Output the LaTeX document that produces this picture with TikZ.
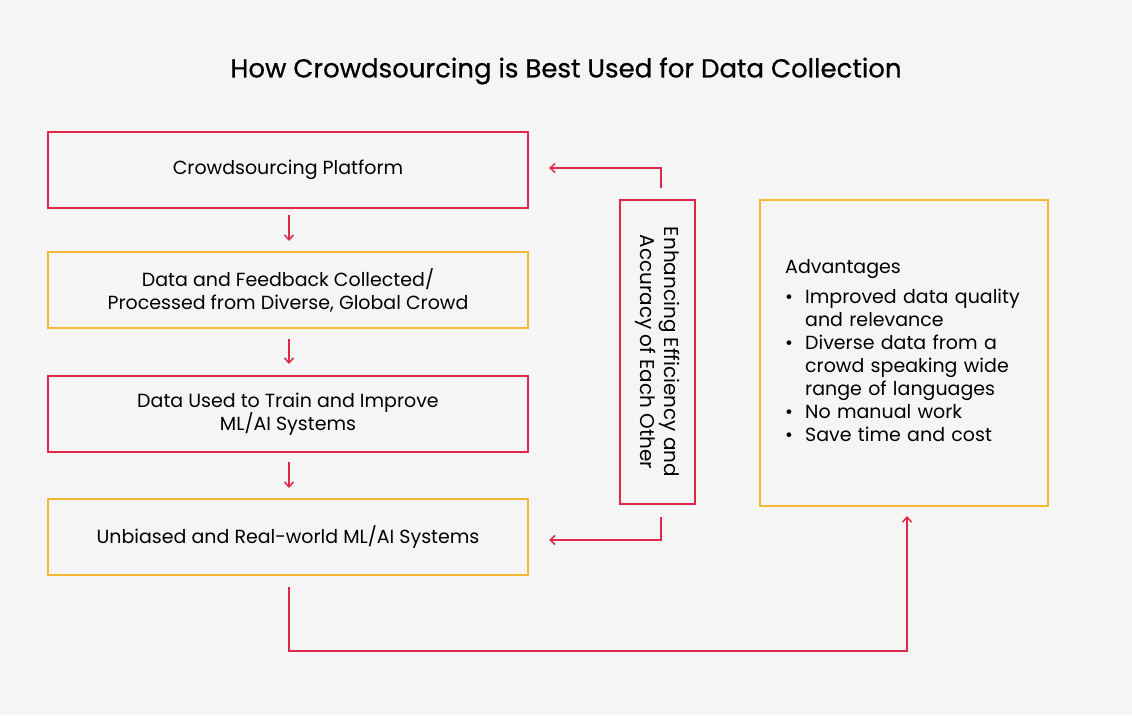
\documentclass[tikz,border=0pt]{standalone}
\usepackage{fontspec}
\setmainfont{Poppins}
\usetikzlibrary{arrows.meta}
\definecolor{myred}{HTML}{E0294A}
\definecolor{myorange}{HTML}{F5B731}
\definecolor{bg}{HTML}{F5F5F5}
\begin{document}
\begin{tikzpicture}[x=1pt,y=-1pt,
  box/.style={draw=#1,line width=1.6pt,minimum width=480pt,minimum height=76pt,align=center,font=\fontsize{19}{23}\selectfont,inner sep=0pt},
  arr/.style={draw=myred,line width=1.5pt,-{Straight Barb[length=5pt,width=9pt]}}]
\fill[bg] (0,0) rectangle (1132,715);
\useasboundingbox (0,0) rectangle (1132,715);
\node[font=\fontsize{26}{30}\selectfont\addfontfeature{FakeBold=0.6}] (t) at (566,71) {How Crowdsourcing is Best Used for Data Collection};
\node[box=myred] (b1) at (288,170) {Crowdsourcing Platform};
\node[box=myorange] (b2) at (288,290) {Data and Feedback Collected/\\Processed from Diverse, Global Crowd};
\node[box=myred] (b3) at (288,414) {Data Used to Train and Improve\\ML/AI Systems};
\node[box=myorange] (b4) at (288,537) {Unbiased and Real-world ML/AI Systems};
\node[draw=myred,line width=1.6pt,minimum width=304pt,minimum height=75pt,rotate=-90,align=center,font=\fontsize{20}{24}\selectfont,inner sep=0pt] (v) at (657.5,352) {Enhancing Efficiency and\\Accuracy of Each Other};
\node[draw=myorange,line width=1.6pt,minimum width=288pt,minimum height=306pt,inner sep=0pt] (adv) at (904,353) {};
\node[anchor=north west,align=left,font=\fontsize{19}{23}\selectfont,text width=260pt,inner sep=0pt] (advt) at (785,259) {Advantages\\[7pt]
\makebox[20pt][l]{\textbullet}Improved data quality\\\hspace*{20pt}and relevance\\
\makebox[20pt][l]{\textbullet}Diverse data from a\\\hspace*{20pt}crowd speaking wide\\\hspace*{20pt}range of languages\\
\makebox[20pt][l]{\textbullet}No manual work\\
\makebox[20pt][l]{\textbullet}Save time and cost};
\coordinate (a1s) at (289,215); \coordinate (a1e) at (289,241);
\coordinate (a2s) at (289,339); \coordinate (a2e) at (289,364);
\coordinate (a3s) at (289,462); \coordinate (a3e) at (289,488);
\draw[arr] (a1s) -- (a1e);
\draw[arr] (a2s) -- (a2e);
\draw[arr] (a3s) -- (a3e);
\coordinate (vt) at (661,188); \coordinate (vte) at (549,168);
\draw[arr] (vt) |- (vte);
\coordinate (vb) at (661,517); \coordinate (vbe) at (549,540);
\draw[arr] (vb) |- (vbe);
\coordinate (bs) at (289,587); \coordinate (bc) at (289,651); \coordinate (be) at (907,516);
\draw[arr] (bs) -- (bc) -| (be);
\end{tikzpicture}
\end{document}
